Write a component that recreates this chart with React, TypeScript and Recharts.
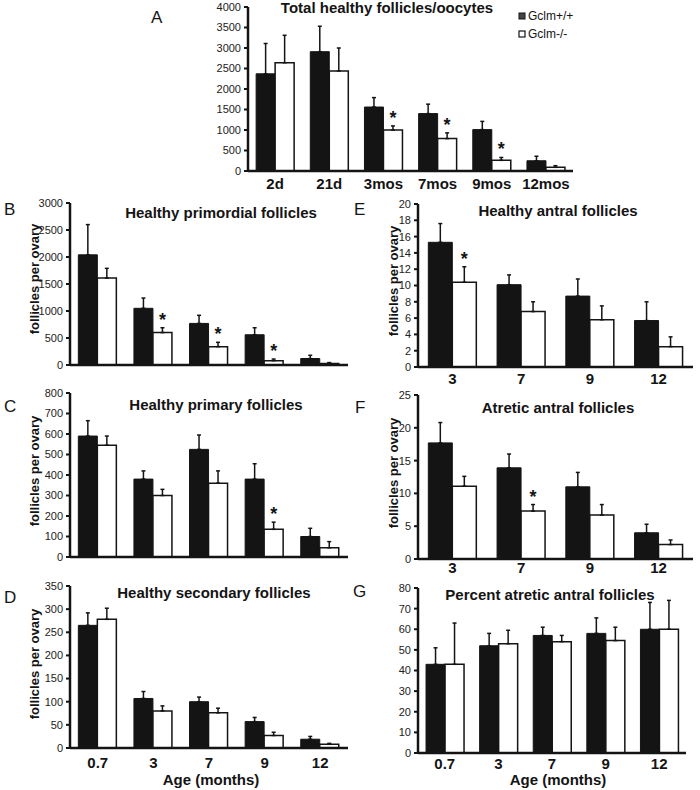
import React from 'react';
import { BarChart, Bar, XAxis, YAxis, ErrorBar, LabelList } from 'recharts';

const FONT = '"Liberation Sans", Arial, Helvetica, sans-serif';
const INK = '#141414';

// categories
const totalAges = ['2d', '21d', '3mos', '7mos', '9mos', '12mos'];
const ages = ['0.7', '3', '7', '9', '12'];
const antralAges = ['3', '7', '9', '12'];

// A: total healthy follicles/oocytes
const totalWt = [2370, 2910, 1560, 1400, 1010, 250];
const totalWtErr = [740, 620, 230, 230, 200, 110];
const totalKo = [2640, 2440, 1000, 790, 260, 90];
const totalKoErr = [670, 560, 100, 140, 70, 40];
const totalStar = [false, false, true, true, true, false];

// B: healthy primordial
const primWt = [2040, 1050, 770, 560, 120];
const primWtErr = [560, 190, 150, 130, 60];
const primKo = [1610, 600, 340, 80, 30];
const primKoErr = [180, 90, 80, 30, 15];
const primStar = [false, true, true, true, false];

// C: healthy primary
const primaryWt = [590, 380, 525, 380, 100];
const primaryWtErr = [75, 40, 70, 75, 40];
const primaryKo = [545, 300, 360, 135, 45];
const primaryKoErr = [45, 30, 60, 35, 30];
const primaryStar = [false, false, false, true, false];

// D: healthy secondary
const secWt = [265, 107, 100, 57, 19];
const secWtErr = [27, 15, 10, 9, 6];
const secKo = [278, 80, 76, 27, 8];
const secKoErr = [24, 11, 10, 7, 2];
const secStar = [false, false, false, false, false];

// E: healthy antral
const antWt = [15.3, 10.1, 8.7, 5.7];
const antWtErr = [2.3, 1.2, 2.1, 2.3];
const antKo = [10.4, 6.8, 5.8, 2.5];
const antKoErr = [1.9, 1.2, 1.7, 1.2];
const antStar = [true, false, false, false];

// F: atretic antral
const atrWt = [17.7, 13.9, 11.0, 4.0];
const atrWtErr = [3.1, 2.1, 2.2, 1.3];
const atrKo = [11.1, 7.3, 6.7, 2.2];
const atrKoErr = [1.5, 1.0, 1.6, 0.7];
const atrStar = [false, true, false, false];

// G: percent atretic antral
const pctWt = [43, 52, 57, 58, 60];
const pctWtErr = [8, 6, 4, 7.5, 13];
const pctKo = [43, 53, 54, 54.5, 60];
const pctKoErr = [20, 6.5, 3, 6.5, 14];
const pctStar = [false, false, false, false, false];

type PanelDef = {
  cats: string[];
  wt: number[];
  wtErr: number[];
  ko: number[];
  koErr: number[];
  star: boolean[];
  yTicks: number[];
  box: [number, number, number, number];
  labels: boolean;
  labelGap: number;
};

const steps = (max: number, step: number) => {
  const out: number[] = [];
  for (let v = 0; v <= max + 1e-9; v += step) out.push(v);
  return out;
};

const panels: PanelDef[] = [
  { cats: totalAges, wt: totalWt, wtErr: totalWtErr, ko: totalKo, koErr: totalKoErr, star: totalStar, yTicks: steps(4000, 500), box: [248, 7, 573, 171], labels: true, labelGap: 7 },
  { cats: ages, wt: primWt, wtErr: primWtErr, ko: primKo, koErr: primKoErr, star: primStar, yTicks: steps(3000, 500), box: [70, 203, 348, 365], labels: false, labelGap: 5 },
  { cats: ages, wt: primaryWt, wtErr: primaryWtErr, ko: primaryKo, koErr: primaryKoErr, star: primaryStar, yTicks: steps(800, 100), box: [70, 393, 348, 557], labels: false, labelGap: 5 },
  { cats: ages, wt: secWt, wtErr: secWtErr, ko: secKo, koErr: secKoErr, star: secStar, yTicks: steps(350, 50), box: [70, 586, 348, 748], labels: true, labelGap: 9 },
  { cats: antralAges, wt: antWt, wtErr: antWtErr, ko: antKo, koErr: antKoErr, star: antStar, yTicks: steps(20, 2), box: [418, 204, 693, 367], labels: true, labelGap: 6 },
  { cats: antralAges, wt: atrWt, wtErr: atrWtErr, ko: atrKo, koErr: atrKoErr, star: atrStar, yTicks: steps(25, 5), box: [418, 395, 693, 559], labels: true, labelGap: 3 },
  { cats: ages, wt: pctWt, wtErr: pctWtErr, ko: pctKo, koErr: pctKoErr, star: pctStar, yTicks: steps(80, 10), box: [418, 588, 686, 753], labels: true, labelGap: 5 },
];

const starLabel = (p: PanelDef) => (props: any) => {
  const vb = props.viewBox || props;
  const x = props.x ?? vb.x;
  const y = props.y ?? vb.y;
  const width = props.width ?? vb.width;
  const height = props.height ?? vb.height;
  const index = props.index;
  if (index == null || !p.star[index]) return null;
  const perUnit = height / p.ko[index];
  const top = y - p.koErr[index] * perUnit;
  return (
    <text x={x + width / 2} y={top - 2} textAnchor="middle" fontSize={18} fontWeight="bold" fontFamily={FONT} fill={INK}>
      *
    </text>
  );
};

function Panel({ p }: { p: PanelDef }) {
  const [x0, y0, x1, y1] = p.box;
  const YW = 40;
  const XH = 30;
  const rows = p.cats.map((name, i) => ({
    name,
    wt: p.wt[i],
    ko: p.ko[i],
    wtErr: [0, p.wtErr[i]],
    koErr: [0, p.koErr[i]],
  }));
  const bounds = p.cats.map((_, i) => i).concat([p.cats.length]);
  return (
    <div style={{ position: 'absolute', left: 0, top: 0 }}>
      <BarChart
        width={700}
        height={790}
        data={rows}
        margin={{ left: x0 - YW, top: y0, right: 700 - x1, bottom: 790 - y1 - XH }}
        barCategoryGap="15%"
        barGap={0}
      >
        <XAxis
          xAxisId="b"
          type="number"
          domain={[0, p.cats.length]}
          ticks={bounds}
          interval={0}
          height={0}
          axisLine={false}
          tick={false}
          tickSize={3}
          tickLine={{ stroke: INK, strokeWidth: 1.5 }}
          allowDataOverflow
        />
        <XAxis
          dataKey="name"
          height={XH}
          interval={0}
          tickSize={0}
          tickMargin={p.labelGap}
          axisLine={{ stroke: INK, strokeWidth: 2.5 }}
          tickLine={false}
          tick={p.labels ? { fontSize: 15, fontWeight: 'bold', fill: INK, fontFamily: FONT } : false}
        />
        <YAxis
          width={YW}
          domain={[0, p.yTicks[p.yTicks.length - 1]]}
          ticks={p.yTicks}
          interval={0}
          tickSize={4}
          tickMargin={3}
          axisLine={{ stroke: INK, strokeWidth: 2.5 }}
          tickLine={{ stroke: INK, strokeWidth: 2 }}
          tick={{ fontSize: 11, fill: '#222', fontFamily: FONT }}
        />
        <Bar dataKey="wt" fill={INK} stroke={INK} strokeWidth={1} isAnimationActive={false}>
          <ErrorBar dataKey="wtErr" direction="y" width={2} stroke={INK} strokeWidth={1.5} isAnimationActive={false} />
        </Bar>
        <Bar dataKey="ko" fill="#ffffff" stroke={INK} strokeWidth={1.5} isAnimationActive={false}>
          <ErrorBar dataKey="koErr" direction="y" width={2} stroke={INK} strokeWidth={1.5} isAnimationActive={false} />
          <LabelList dataKey="ko" content={starLabel(p)} />
        </Bar>
      </BarChart>
    </div>
  );
}

const titles = [
  { text: 'Total healthy follicles/oocytes', x: 387, y: 13 },
  { text: 'Healthy primordial follicles', x: 221, y: 218 },
  { text: 'Healthy primary follicles', x: 216, y: 410 },
  { text: 'Healthy secondary follicles', x: 214, y: 598 },
  { text: 'Healthy antral follicles', x: 558, y: 216 },
  { text: 'Atretic antral follicles', x: 558, y: 413 },
  { text: 'Percent atretic antral follicles', x: 550, y: 600 },
];

const letters = [
  { text: 'A', x: 151, y: 23 },
  { text: 'B', x: 4, y: 215 },
  { text: 'C', x: 4, y: 412 },
  { text: 'D', x: 4, y: 603 },
  { text: 'E', x: 354, y: 215 },
  { text: 'F', x: 355, y: 413 },
  { text: 'G', x: 353, y: 597 },
];

const yLabels = [
  { x: 34, y: 279 },
  { x: 34, y: 471 },
  { x: 34, y: 664 },
  { x: 393, y: 281 },
  { x: 393, y: 473 },
];

export default function App() {
  return (
    <div style={{ position: 'absolute', left: 0, top: 0, width: 700, height: 790, background: '#fff', fontFamily: FONT }}>
      {panels.map((p, i) => (
        <Panel key={i} p={p} />
      ))}
      <svg width={700} height={790} style={{ position: 'absolute', left: 0, top: 0, pointerEvents: 'none' }}>
        {titles.map((t) => (
          <text key={t.text} x={t.x} y={t.y} textAnchor="middle" fontSize={15} fontWeight="bold" fontFamily={FONT} fill={INK}>
            {t.text}
          </text>
        ))}
        {letters.map((t) => (
          <text key={t.text} x={t.x} y={t.y} fontSize={17} fontFamily={FONT} fill={INK}>
            {t.text}
          </text>
        ))}
        {yLabels.map((t, i) => (
          <text
            key={i}
            x={t.x}
            y={t.y}
            transform={`rotate(-90 ${t.x} ${t.y})`}
            textAnchor="middle"
            dominantBaseline="central"
            fontSize={13}
            fontWeight="bold"
            fontFamily={FONT}
            fill={INK}
          >
            follicles per ovary
          </text>
        ))}
        <text x={211} y={785} textAnchor="middle" fontSize={15} fontWeight="bold" fontFamily={FONT} fill={INK}>
          Age (months)
        </text>
        <text x={558} y={785} textAnchor="middle" fontSize={15} fontWeight="bold" fontFamily={FONT} fill={INK}>
          Age (months)
        </text>
        <rect x={519} y={13} width={6} height={6} fill="#444" stroke={INK} strokeWidth={1} />
        <text x={528} y={20} fontSize={12} fontFamily={FONT} fill={INK}>
          Gclm+/+
        </text>
        <rect x={519} y={31} width={6} height={6} fill="#fff" stroke={INK} strokeWidth={1.2} />
        <text x={528} y={38} fontSize={12} fontFamily={FONT} fill={INK}>
          Gclm-/-
        </text>
      </svg>
    </div>
  );
}
